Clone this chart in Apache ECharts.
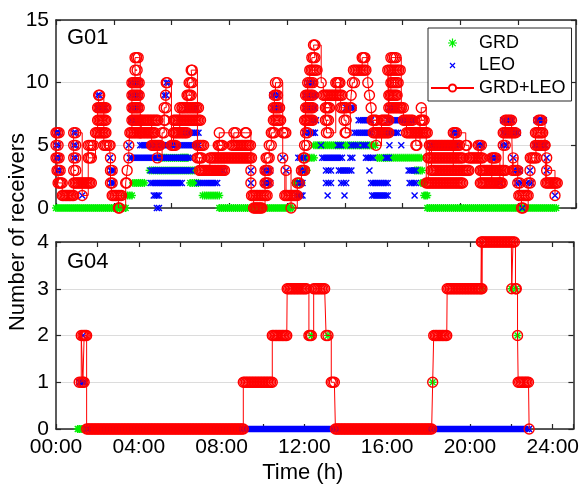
<!DOCTYPE html>
<html>
<head>
<meta charset="utf-8">
<title>G01 / G04 receivers</title>
<script src="https://cdn.jsdelivr.net/npm/echarts@6/dist/echarts.min.js"></script>
<style>
  html, body { margin: 0; padding: 0; background: #fff; }
  #chart { width: 582px; height: 490px; }
</style>
</head>
<body>
<div id="chart"></div>
<script>
// every run: [start (h), end (h), number of receivers]
const g01Grd = [
  [0.0, 3.35, 0], [3.35, 3.65, 1], [3.7, 4.25, 2], [4.5, 6.65, 3], [4.95, 6.35, 4],
  [6.0, 6.3, 4], [6.45, 6.85, 2], [7.05, 7.85, 1], [7.85, 11.35, 0], [11.5, 11.8, 2],
  [11.85, 12.05, 3], [11.9, 12.4, 4], [12.4, 15.35, 5], [15.45, 17.55, 4], [17.25, 17.6, 3],
  [17.55, 17.7, 2], [17.7, 17.85, 1], [17.85, 24.05, 0]
];
const g01Leo = [
  [0.0, 0.15, 6], [0.0, 0.1, 5], [0.0, 0.15, 4], [0.05, 0.2, 3], [0.85, 0.95, 6],
  [0.85, 0.95, 5], [0.85, 0.95, 4], [1.26, 1.26, 1], [2.0, 2.4, 8], [2.0, 2.1, 9],
  [2.6, 2.6, 4], [2.62, 2.78, 3], [2.62, 2.78, 2], [3.5, 3.5, 5], [3.6, 4.0, 10],
  [3.6, 4.0, 9], [3.6, 4.0, 8], [3.6, 4.1, 7], [3.55, 6.45, 4], [4.05, 6.85, 5],
  [4.55, 6.05, 2], [4.55, 6.5, 3], [4.7, 4.95, 1], [4.85, 4.95, 0], [5.2, 5.3, 9],
  [5.3, 5.4, 10], [5.95, 6.85, 6], [6.3, 6.7, 8], [6.85, 7.75, 2], [7.65, 8.05, 3],
  [9.37, 9.37, 3], [9.37, 9.37, 2], [10.0, 10.3, 2], [10.0, 10.3, 3], [10.4, 10.7, 9],
  [10.4, 10.8, 8], [10.9, 10.9, 4], [11.06, 11.06, 3], [11.6, 11.85, 1], [11.65, 11.85, 2],
  [11.75, 11.95, 3], [11.65, 11.95, 4], [11.95, 12.35, 6], [12.0, 12.3, 9], [12.0, 12.3, 8],
  [12.1, 12.4, 10], [12.3, 12.45, 9], [12.3, 12.45, 8], [12.26, 12.5, 7], [12.26, 12.45, 6],
  [13.06, 13.06, 1], [13.87, 13.87, 1], [15.2, 15.95, 1], [17.24, 17.24, 1],
  [12.98, 13.22, 2], [13.71, 13.95, 2], [15.15, 15.95, 2], [17.0, 17.3, 2],
  [12.98, 13.22, 3], [13.6, 14.2, 3], [15.07, 15.07, 3], [16.95, 17.3, 3],
  [12.8, 13.75, 4], [14.15, 14.25, 4], [14.9, 15.25, 4], [15.85, 16.0, 4],
  [12.74, 12.74, 5], [13.55, 13.71, 5], [14.19, 14.51, 5], [14.75, 14.91, 5], [16.03, 16.03, 5], [16.6, 16.6, 5],
  [14.35, 15.15, 6], [15.5, 16.45, 6], [14.55, 15.15, 7], [15.95, 17.3, 7],
  [13.95, 14.3, 8], [16.0, 16.4, 8],
  [18.0, 19.4, 5], [19.05, 19.3, 6], [20.3, 20.5, 5], [20.9, 21.2, 4], [21.34, 21.34, 2],
  [21.45, 21.65, 5], [21.5, 21.95, 7], [21.5, 22.2, 6], [21.98, 21.98, 4], [22.0, 22.3, 3],
  [22.15, 22.35, 2], [22.42, 22.42, 0], [22.63, 22.87, 2], [22.79, 22.79, 3], [23.0, 23.55, 5],
  [23.1, 23.45, 7], [23.51, 23.51, 5], [23.59, 23.59, 4], [23.59, 23.59, 3], [23.99, 23.99, 1]
];
const g01Both = [
  [0.0, 0.15, 6], [0.0, 0.1, 5], [0.0, 0.15, 4], [0.05, 0.2, 3], [0.1, 0.3, 2], [0.3, 0.85, 1],
  [0.85, 1.7, 2], [0.85, 0.95, 3], [0.85, 0.95, 4], [0.85, 0.95, 5], [0.85, 0.95, 6], [1.26, 1.26, 1],
  [1.55, 1.8, 5], [1.55, 1.7, 4], [1.9, 2.4, 6], [2.0, 2.4, 7], [2.0, 2.4, 8], [2.05, 2.1, 9], [2.3, 2.45, 5],
  [2.55, 2.6, 5], [2.62, 2.62, 4], [2.62, 2.7, 3], [2.62, 2.7, 2], [2.7, 3.15, 1], [3.0, 3.05, 0],
  [3.35, 3.4, 2], [3.42, 3.42, 3], [3.5, 3.5, 4], [3.5, 3.5, 5],
  [3.55, 4.05, 6], [3.65, 4.05, 7], [3.65, 4.0, 8], [3.65, 4.0, 9], [3.65, 4.0, 10], [3.8, 3.9, 11], [3.8, 3.95, 12],
  [4.05, 4.75, 6], [4.1, 4.9, 7], [4.6, 5.0, 5], [4.87, 4.87, 4],
  [5.1, 5.2, 6], [5.2, 5.25, 7], [5.2, 5.3, 8], [5.27, 5.27, 9], [5.3, 5.35, 10],
  [5.55, 5.75, 5], [5.65, 6.95, 7], [5.65, 6.3, 6], [5.95, 6.05, 8], [6.1, 6.85, 8],
  [6.3, 6.5, 9], [6.4, 6.55, 10], [6.5, 6.55, 11],
  [6.8, 7.1, 5], [6.8, 7.0, 4], [6.9, 8.1, 3], [7.4, 9.4, 4], [7.8, 8.0, 5], [7.85, 7.85, 6],
  [8.45, 9.35, 5], [8.55, 8.65, 6], [9.1, 9.15, 6],
  [9.4, 10.15, 1], [9.37, 9.37, 3], [9.37, 9.37, 2], [9.5, 9.9, 0],
  [10.05, 10.2, 2], [10.05, 10.2, 3], [10.1, 10.25, 4], [10.25, 10.35, 5],
  [10.35, 10.5, 6], [10.45, 10.8, 7], [10.45, 10.75, 8], [10.5, 10.65, 9], [10.55, 10.65, 10],
  [10.9, 11.05, 6], [10.9, 10.9, 4], [11.0, 11.6, 1], [11.06, 11.06, 3], [11.3, 11.3, 0],
  [11.6, 11.7, 2], [11.8, 11.95, 3], [11.9, 11.95, 4],
  [11.95, 12.05, 5], [12.0, 12.1, 6], [11.95, 12.35, 7], [12.0, 12.35, 8], [12.0, 12.35, 9], [12.1, 12.35, 10],
  [12.2, 12.55, 11], [12.3, 12.45, 12], [12.38, 12.45, 13],
  [12.75, 12.75, 10], [12.85, 13.75, 9], [12.95, 13.15, 8], [12.95, 13.1, 7], [13.0, 13.1, 6], [13.45, 13.65, 10],
  [13.7, 13.95, 8], [13.85, 13.95, 7], [13.9, 13.95, 6],
  [14.15, 14.2, 8], [14.19, 14.19, 9], [14.25, 14.35, 10], [14.3, 14.9, 11], [14.72, 14.85, 12],
  [14.99, 14.99, 10], [15.07, 15.07, 9], [15.15, 15.15, 8], [15.2, 15.4, 7], [15.25, 16.0, 6], [15.39, 15.39, 5],
  [15.65, 16.0, 7], [15.95, 16.55, 11], [16.0, 16.6, 8], [16.0, 16.4, 9], [16.1, 16.45, 10], [16.1, 16.35, 12],
  [16.6, 16.7, 8], [16.7, 17.15, 7], [16.85, 17.85, 6],
  [17.3, 17.35, 5], [17.5, 17.7, 7], [17.56, 17.56, 8],
  [17.9, 19.55, 4], [17.8, 19.55, 2], [17.95, 19.4, 5], [18.05, 19.85, 3],
  [19.1, 19.25, 6], [19.7, 19.75, 5], [19.85, 20.5, 4],
  [20.3, 20.45, 5], [20.4, 21.6, 3], [20.4, 21.45, 2], [20.95, 21.15, 4], [21.34, 21.34, 2],
  [21.5, 21.6, 5], [21.5, 22.1, 6], [21.6, 21.9, 7],
  [21.95, 22.2, 3], [21.98, 21.98, 4], [22.2, 22.3, 2], [22.25, 22.7, 1], [22.38, 22.45, 0],
  [22.7, 22.8, 2], [22.79, 22.79, 3], [22.8, 23.1, 4], [23.05, 23.5, 5], [23.05, 23.4, 6], [23.2, 23.35, 7],
  [23.51, 23.51, 5], [23.59, 23.59, 4], [23.59, 23.59, 3], [23.55, 24.1, 2], [23.99, 23.99, 1]
];

const g04Grd = [
  [1.05, 1.3, 0], [12.34, 12.34, 2], [13.14, 13.14, 2], [18.2, 18.2, 1],
  [20.58, 20.58, 3], [22.0, 22.0, 3], [22.22, 22.22, 3], [22.3, 22.3, 2]
];
const g04Leo = [
  [1.12, 1.38, 1], [1.3, 1.3, 2], [1.5, 22.86, 0]
];
const g04Both = [
  [1.12, 1.22, 1], [1.22, 1.3, 2], [1.3, 1.36, 1], [1.36, 1.48, 2], [1.48, 9.05, 0],
  [9.05, 10.45, 1], [10.45, 11.15, 2], [11.17, 12.1, 3], [12.22, 12.34, 2], [12.45, 12.98, 3],
  [13.05, 13.14, 2], [13.3, 13.45, 1], [13.5, 18.15, 0], [18.2, 18.2, 1], [18.25, 18.88, 2],
  [18.9, 20.53, 3], [20.55, 20.56, 4], [20.58, 20.6, 3], [20.6, 22.0, 4], [22.02, 22.04, 3],
  [22.08, 22.15, 4], [22.2, 22.24, 3], [22.3, 22.3, 2], [22.33, 22.83, 1], [22.86, 22.86, 0]
];

const timeLabels = ['00:00', '04:00', '08:00', '12:00', '16:00', '20:00', '24:00'];
const g01Max = 15;
const g04Max = 4;

const FONT = '"Liberation Sans", Arial, sans-serif';
const AXIS = '#262626';
const GREEN = '#00f000';
const BLUE = '#0000ff';
const RED = '#ff0000';

// legend glyphs (filled polygons)
const starIcon = 'path://M39 0L51 0L51 90L39 90Z M0 39L90 39L90 51L0 51Z ' +
  'M17.24 8.76L81.24 72.76L72.76 81.24L8.76 17.24Z M72.76 8.76L81.24 17.24L17.24 81.24L8.76 72.76Z';
const crossIcon = 'path://M0 0L0.1 0L0 0.1Z M90 90L89.9 90L90 89.9Z ' +
  'M24.24 15.76L74.24 65.76L65.76 74.24L15.76 24.24Z M65.76 15.76L74.24 24.24L24.24 74.24L15.76 65.76Z';

function bandRenderer(kind, color) {
  return function (params, api) {
    const v = api.value(2);
    const a = api.coord([api.value(0), v]);
    const b = api.coord([api.value(1), v]);
    const step = kind === 'circle' ? 1.5 : 2;
    const n = Math.max(1, Math.round((b[0] - a[0]) / step) + 1);
    const children = [];
    for (let i = 0; i < n; i++) {
      const x = n === 1 ? a[0] : a[0] + (b[0] - a[0]) * i / (n - 1);
      const y = a[1];
      if (kind === 'circle') {
        children.push({ type: 'circle', shape: { cx: x, cy: y, r: 5 },
          style: { fill: 'none', stroke: color, lineWidth: 1.4 } });
      } else {
        let segs;
        if (kind === 'cross') {
          segs = [[-3, -3, 3, 3], [-3, 3, 3, -3]];
        } else {
          segs = [[0, -4, 0, 4], [-4, 0, 4, 0], [-2.9, -2.9, 2.9, 2.9], [-2.9, 2.9, 2.9, -2.9]];
        }
        segs.forEach(function (s) {
          children.push({ type: 'line', shape: { x1: x + s[0], y1: y + s[1], x2: x + s[2], y2: y + s[3] },
            style: { stroke: color, lineWidth: 1.4 } });
        });
      }
    }
    return { type: 'group', children: children };
  };
}

// red connecting line, runs taken in time order
function stepPath(runs) {
  const sorted = runs.slice().sort(function (p, q) { return p[0] - q[0]; });
  const pts = [];
  sorted.forEach(function (r) { pts.push([r[0], r[2]], [r[1], r[2]]); });
  return pts;
}

function xAxisFor(grid, pos, interval, labels) {
  return {
    gridIndex: grid, type: 'value', position: pos, min: 0, max: 25, interval: interval,
    axisLine: { onZero: false, lineStyle: { color: AXIS, width: 1.5 } },
    axisTick: { inside: true, length: 5, lineStyle: { color: AXIS, width: 1.2 } },
    splitLine: { show: false },
    axisLabel: labels ? {
      show: true, margin: 8, color: '#000', fontFamily: FONT, fontSize: 21,
      formatter: function (val) {
        const k = Math.round(val);
        return (Math.abs(val - k) < 1e-6 && k % 4 === 0 && k <= 24) ? timeLabels[k / 4] : '';
      }
    } : { show: false }
  };
}

function yAxisFor(grid, pos, max, interval, labels) {
  return {
    gridIndex: grid, type: 'value', position: pos, min: 0, max: max, interval: interval,
    axisLine: { show: true, onZero: false, lineStyle: { color: AXIS, width: 1.5 } },
    axisTick: { show: true, inside: true, length: 5, lineStyle: { color: AXIS, width: 1.2 } },
    splitLine: { show: labels, lineStyle: { color: '#dcdcdc', width: 1.2 } },
    axisLabel: { show: labels, margin: 7, color: '#000', fontFamily: FONT, fontSize: 21 }
  };
}

function band(name, runs, xi, yi, kind, color) {
  return {
    type: 'custom', name: name, xAxisIndex: xi, yAxisIndex: yi, data: runs,
    encode: { x: [0, 1], y: 2 }, renderItem: bandRenderer(kind, color),
    itemStyle: { color: color }, silent: true, clip: false
  };
}

function link(runs, xi, yi) {
  return {
    type: 'line', name: 'GRD+LEO', xAxisIndex: xi, yAxisIndex: yi, data: stepPath(runs),
    step: 'end', showSymbol: false, symbol: 'emptyCircle', symbolSize: 9,
    lineStyle: { color: RED, width: 1 }, itemStyle: { color: RED }, silent: true
  };
}

const chart = echarts.init(document.getElementById('chart'));
chart.setOption({
  animation: false,
  backgroundColor: '#fff',
  grid: [
    { left: 56, right: 6, top: 20, height: 188 },
    { left: 56, right: 6, top: 242, height: 187 }
  ],
  xAxis: [
    xAxisFor(0, 'bottom', 25 / 9, false),
    xAxisFor(0, 'top', 25 / 9, false),
    Object.assign(xAxisFor(1, 'bottom', 2, true), {
      name: 'Time (h)', nameLocation: 'middle', nameGap: 33,
      nameTextStyle: { color: '#000', fontFamily: FONT, fontSize: 22, padding: [0, 24, 0, 0] }
    }),
    xAxisFor(1, 'top', 2, false)
  ],
  yAxis: [
    yAxisFor(0, 'left', g01Max, 5, true),
    yAxisFor(0, 'right', g01Max, 5, false),
    yAxisFor(1, 'left', g04Max, 1, true),
    yAxisFor(1, 'right', g04Max, 1, false)
  ],
  legend: {
    orient: 'vertical', left: 428, top: 28,
    backgroundColor: '#fff', borderColor: AXIS, borderWidth: 1, borderRadius: 0,
    padding: [6, 6, 4, 2], itemGap: 4.5, itemWidth: 43, itemHeight: 9,
    selectedMode: false,
    textStyle: { color: '#000', fontFamily: FONT, fontSize: 18, lineHeight: 18 },
    data: [
      { name: 'GRD', icon: starIcon },
      { name: 'LEO', icon: crossIcon },
      { name: 'GRD+LEO' }
    ]
  },
  graphic: [
    { type: 'text', left: 67, top: 27, style: { text: 'G01', fill: '#000', font: '22px ' + FONT } },
    { type: 'text', left: 67, top: 251, style: { text: 'G04', fill: '#000', font: '22px ' + FONT } },
    { type: 'text', x: 18, y: 232, rotation: Math.PI / 2,
      style: { text: 'Number of receivers', fill: '#000', font: '22px ' + FONT,
        align: 'center', verticalAlign: 'middle' } }
  ],
  series: [
    band('GRD', g01Grd, 0, 0, 'star', GREEN),
    band('GRD', g04Grd, 2, 2, 'star', GREEN),
    band('LEO', g01Leo, 0, 0, 'cross', BLUE),
    band('LEO', g04Leo, 2, 2, 'cross', BLUE),
    link(g01Both, 0, 0),
    link(g04Both, 2, 2),
    band('GRD+LEO', g01Both, 0, 0, 'circle', RED),
    band('GRD+LEO', g04Both, 2, 2, 'circle', RED)
  ]
});
</script>
</body>
</html>
